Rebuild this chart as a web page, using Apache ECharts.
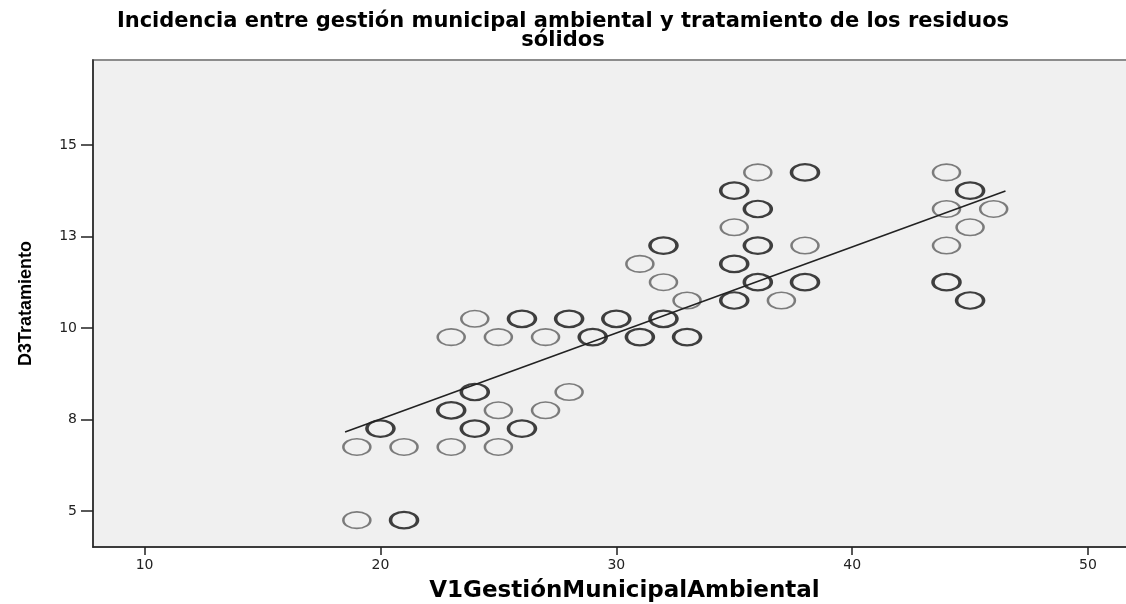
<!DOCTYPE html>
<html>
<head>
<meta charset="utf-8">
<title>Incidencia entre gestión municipal ambiental y tratamiento de los residuos sólidos</title>
<script src="https://cdn.jsdelivr.net/npm/echarts@6/dist/echarts.min.js"></script>
<style>
  html, body { margin: 0; padding: 0; background: #ffffff; }
  #main { width: 1126px; height: 604px; }
</style>
</head>
<body>
<div id="main"></div>
<script>
// datos leidos del grafico
// puntos sencillos (circulo claro)
const singleX = [19, 19, 21, 23, 25, 25, 27, 28, 23, 25, 27, 24, 33, 37, 32, 31, 38, 44, 35, 45, 44, 46, 36, 44];
const singleY = [4.75, 6.75, 6.75, 6.75, 6.75, 7.75, 7.75, 8.25, 9.75, 9.75, 9.75, 10.25, 10.75, 10.75, 11.25, 11.75, 12.25, 12.25, 12.75, 12.75, 13.25, 13.25, 14.25, 14.25];
// puntos repetidos (circulo oscuro)
const repeatX = [21, 20, 24, 26, 23, 24, 29, 31, 33, 26, 28, 30, 32, 35, 45, 36, 38, 44, 35, 32, 36, 36, 35, 45, 38];
const repeatY = [4.75, 7.25, 7.25, 7.25, 7.75, 8.25, 9.75, 9.75, 9.75, 10.25, 10.25, 10.25, 10.25, 10.75, 10.75, 11.25, 11.25, 11.25, 11.75, 12.25, 12.25, 13.25, 13.75, 13.75, 14.25];
// recta de ajuste
const fitX = [18.5, 46.5];
const fitY = [7.16, 13.74];
// marcas de los ejes
const xTicks = [10, 20, 30, 40, 50];
const yTicks = [5, 7.5, 10, 12.5, 15];
const yTickLabels = ['5', '8', '10', '13', '15'];

const titleText = 'Incidencia entre gestión municipal ambiental y tratamiento de los residuos\nsólidos';

function toPairs(xs, ys) {
  return xs.map((x, i) => [x, ys[i]]);
}

// elipse hueca (el grafico original esta estirado en horizontal)
const ellipse = 'path://M0,50 A50,50 0 1,1 100,50 A50,50 0 1,1 0,50 Z';

let chart = echarts.init(document.getElementById('main'), null, { renderer: 'canvas' });

var option = {
  backgroundColor: '#ffffff',
  animation: false,
  title: {
    text: titleText,
    left: 'center',
    top: 7,
    padding: [5, 0, 5, 16],
    textStyle: {
      fontFamily: 'DejaVu Sans',
      fontWeight: 'bold',
      fontSize: 21,
      lineHeight: 19,
      color: '#000000'
    }
  },
  grid: {
    left: 93,
    right: -4,
    top: 60,
    bottom: 57,
    outerBoundsMode: 'none',
    show: true,
    backgroundColor: '#f0f0f0',
    borderColor: '#8c8c8c',
    borderWidth: 2
  },
  xAxis: {
    type: 'value',
    min: 7.813,
    max: 51.78,
    name: 'V1GestiónMunicipalAmbiental',
    nameLocation: 'middle',
    nameGap: 33,
    nameTextStyle: {
      fontFamily: 'DejaVu Sans',
      fontWeight: 'bold',
      fontSize: 23,
      color: '#000000',
      padding: [0, 0, 0, 26]
    },
    splitLine: { show: false },
    axisLine: { show: true, onZero: false, lineStyle: { color: '#222222', width: 1.5 } },
    axisTick: { show: true, length: 8, lineStyle: { color: '#222222', width: 1.5 }, customValues: xTicks },
    axisLabel: {
      customValues: xTicks,
      margin: 11,
      fontFamily: 'DejaVu Sans',
      fontSize: 14,
      color: '#222222'
    }
  },
  yAxis: {
    type: 'value',
    min: 4.016,
    max: 17.32,
    name: 'D3Tratamiento',
    nameLocation: 'middle',
    nameRotate: 90,
    nameGap: 58,
    nameTextStyle: {
      fontFamily: 'Liberation Sans',
      fontWeight: 'bold',
      fontSize: 18,
      color: '#000000'
    },
    splitLine: { show: false },
    axisLine: { show: true, onZero: false, lineStyle: { color: '#222222', width: 1.5 } },
    axisTick: { show: true, length: 12, lineStyle: { color: '#222222', width: 1.5 }, customValues: yTicks },
    axisLabel: {
      customValues: yTicks,
      margin: 16,
      fontFamily: 'DejaVu Sans',
      fontSize: 14,
      color: '#222222',
      formatter: function (v) {
        const i = yTicks.indexOf(v);
        return i >= 0 ? yTickLabels[i] : '';
      }
    }
  },
  series: [
    {
      name: 'sencillo',
      type: 'scatter',
      symbol: ellipse,
      symbolSize: [27, 16.5],
      data: toPairs(singleX, singleY),
      itemStyle: {
        color: 'rgba(0,0,0,0)',
        borderColor: '#5e5e5e',
        borderWidth: 2
      },
      z: 2
    },
    {
      name: 'repetido',
      type: 'scatter',
      symbol: ellipse,
      symbolSize: [27, 16.5],
      data: toPairs(repeatX, repeatY),
      itemStyle: {
        color: 'rgba(0,0,0,0)',
        borderColor: '#111111',
        borderWidth: 2.8
      },
      z: 3
    },
    {
      name: 'ajuste',
      type: 'line',
      data: toPairs(fitX, fitY),
      symbol: 'none',
      lineStyle: { color: '#222222', width: 1.6 },
      z: 4
    }
  ]
};

chart.setOption(option);
</script>
</body>
</html>
